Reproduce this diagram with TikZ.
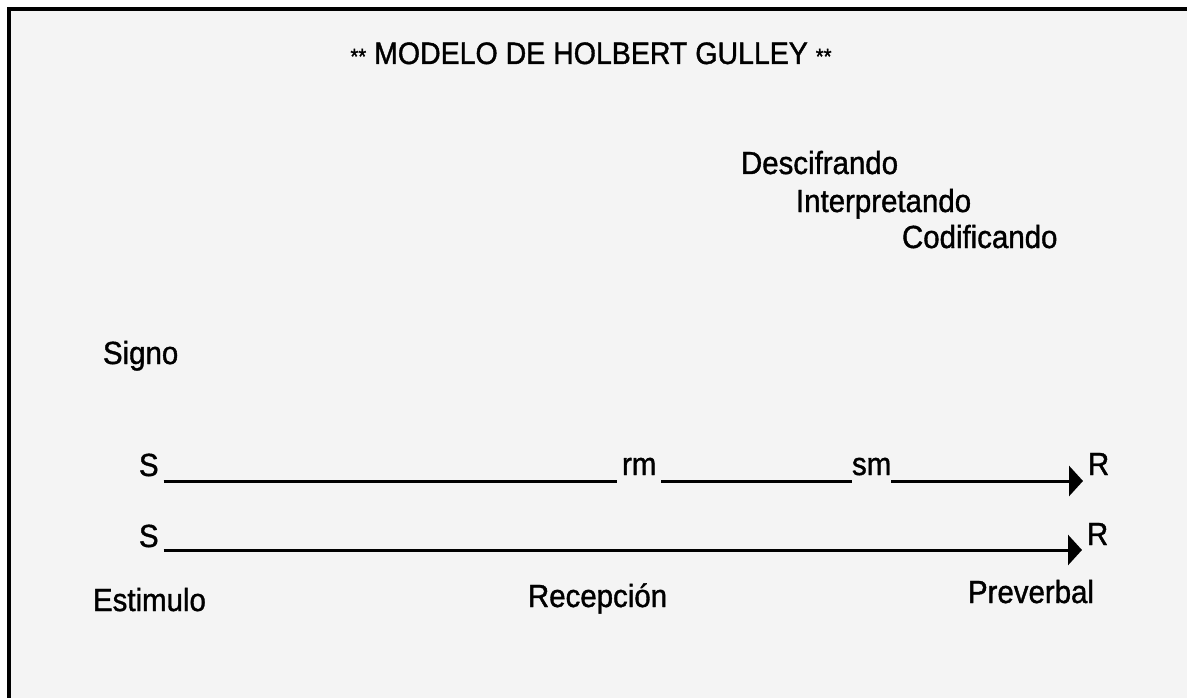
\documentclass[tikz,border=0pt]{standalone}
\usepackage{fontspec}
\setmainfont{Liberation Sans}[FakeStretch=0.92,FakeBold=1.2]
\usetikzlibrary{arrows.meta}

\definecolor{panelgray}{HTML}{F4F4F4}
\tikzset{
  txt/.style={anchor=base west,inner sep=0pt,outer sep=0pt,
    font=\fontsize{32}{36}\selectfont},
  sym/.style={txt,outer sep=5pt},
  wire/.style={line width=3pt},
  arrow/.style={wire,-{Triangle[length=14pt,width=30pt]}}
}
\newcommand\stars{{\fontsize{22}{22}\selectfont**}}

\begin{document}
\begin{tikzpicture}[x=1pt,y=-1pt]
  \useasboundingbox (0,0) rectangle (1187,698);
  \fill[panelgray] (9,9) rectangle (1187,698);
  \draw[line width=4pt] (9,698) -- (9,9) -- (1187,9);
  \node[txt,anchor=base,font=\fontsize{31}{36}\selectfont] (title) at (591,64)
    {\stars\ MODELO DE HOLBERT GULLEY \stars};
  \node[txt] (desc) at (741,174) {Descifrando};
  \node[txt] (interp) at (796,212) {Interpretando};
  \node[txt] (codif) at (902,248) {Codificando};
  \node[txt] (signo) at (103,364) {Signo};
  % upper row
  \coordinate (row1) at (0,481);
  \node[sym] (S1) at (134,476) {S};
  \node[sym] (rm) at (617,475) {rm};
  \node[txt] (sm) at (852,475) {sm};
  \node[sym] (R1) at (1083,475) {R};
  \draw[wire] (S1.east |- row1) -- (rm.west |- row1);
  \draw[wire] (rm.east |- row1) -- (sm.west |- row1);
  \draw[arrow] (sm.east |- row1) -- (R1.west |- row1);
  % lower row
  \coordinate (row2) at (0,550);
  \node[sym] (S2) at (134,547) {S};
  \node[sym] (R2) at (1082,545) {R};
  \draw[arrow] (S2.east |- row2) -- (R2.west |- row2);
  \node[txt] (estim) at (93,611) {Estimulo};
  \node[txt] (recep) at (528,607) {Recepción};
  \node[txt] (prever) at (968,603) {Preverbal};
\end{tikzpicture}
\end{document}
